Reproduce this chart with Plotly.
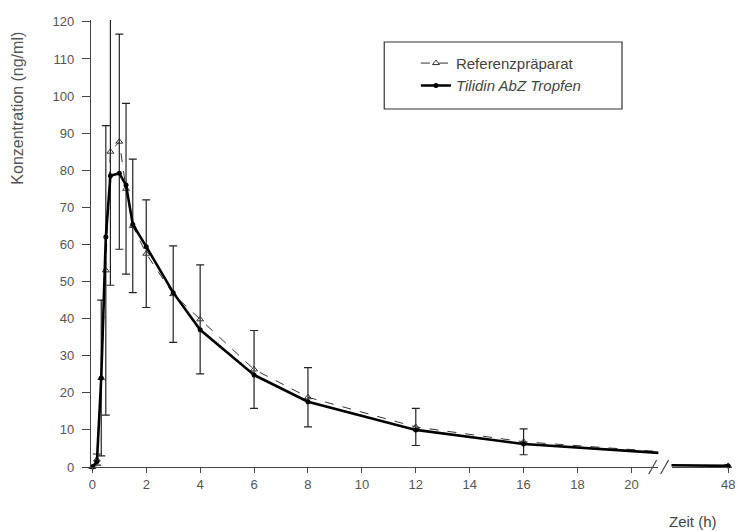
import plotly.graph_objects as go

# Time points (h)
zeit = [0, 0.17, 0.33, 0.5, 0.67, 1, 1.25, 1.5, 2, 3, 4, 6, 8, 12, 16, 24, 48]
# Mean concentrations (ng/ml)
referenz = [0, 2, 24, 53, 85, 87.7, 75, 65, 57.5, 46.6, 39.8, 26.3, 18.8, 10.8, 6.8, 2.6, 0.3]
referenz_sd = [0, 1.5, 21, 39, 36, 29, 23, 18, 14.5, 13, 14.7, 10.5, 8, 5, 3.5, 1.5, 0.3]
tilidin = [0, 1.5, 24, 62, 78.5, 79.2, 76, 65.4, 59.4, 47, 37, 24.8, 17.6, 10, 6.2, 2.4, 0.3]

x_ticks_left = [0, 2, 4, 6, 8, 10, 12, 14, 16, 18, 20]
x_ticks_right = [48]
y_ticks = [0, 10, 20, 30, 40, 50, 60, 70, 80, 90, 100, 110, 120]

ref_name = "Referenzpräparat"
test_name = "<i>Tilidin AbZ Tropfen</i>"

fig = go.Figure()

for xa, ya, show in [("x", "y", True), ("x2", "y2", False)]:
    fig.add_trace(go.Scatter(
        x=zeit, y=referenz, name=ref_name, xaxis=xa, yaxis=ya, showlegend=show,
        mode="lines+markers", cliponaxis=False,
        line=dict(color="#333", width=1, dash="dash"),
        marker=dict(symbol="triangle-up-open", size=6, color="#333", line=dict(width=1)),
        error_y=dict(type="data", array=referenz_sd, visible=True, color="#222",
                     thickness=1.2, width=4),
    ))
    fig.add_trace(go.Scatter(
        x=zeit, y=tilidin, name=test_name, xaxis=xa, yaxis=ya, showlegend=show,
        mode="lines+markers", cliponaxis=False,
        line=dict(color="#000", width=2.6),
        marker=dict(symbol="circle", size=5, color="#000"),
    ))

tick_font = dict(family="Liberation Sans, Arial, sans-serif", size=13, color="#555")

W = 741 - 91 - 6  # plotting width in px
H = 447

fig.update_layout(
    width=741, height=531,
    margin=dict(l=91, r=6, t=20, b=64),
    paper_bgcolor="white", plot_bgcolor="white",
    font=dict(family="Liberation Sans, Arial, sans-serif", size=13, color="#444"),
    xaxis=dict(domain=[0, (663.7 - 91) / W], range=[-0.05, 21], tickvals=x_ticks_left,
               showline=True, linecolor="#444", linewidth=1.2, ticks="outside",
               ticklen=5, tickcolor="#444", showgrid=False, zeroline=False,
               tickfont=tick_font),
    xaxis2=dict(domain=[(677 - 91) / W, 1], range=[45.9, 48.03], tickvals=x_ticks_right,
                showline=True, linecolor="#444", linewidth=1.2, ticks="outside",
                ticklen=5, tickcolor="#444", showgrid=False, zeroline=False,
                tickfont=tick_font, anchor="y2", ticklabeloverflow="allow"),
    yaxis=dict(range=[0, 120.5], tickvals=y_ticks, showline=True, linecolor="#444",
               linewidth=1.2, ticks="outside", ticklen=8, tickcolor="#444",
               showgrid=False, zeroline=False, tickfont=tick_font,
               ticklabelstandoff=5),
    yaxis2=dict(range=[0, 120.5], anchor="x2", matches="y", visible=False),
    legend=dict(x=(419 - 91) / W, y=0.94, xanchor="left", yanchor="top",
                bgcolor="rgba(0,0,0,0)", borderwidth=0, tracegroupgap=0,
                font=dict(size=15, color="#444")),
    showlegend=True,
)

# y-axis title (placed near top, as in the original)
fig.add_annotation(text="Konzentration (ng/ml)", xref="paper", yref="paper",
                   x=(17 - 91) / W, y=(467 - 108) / H, textangle=-90,
                   showarrow=False, xanchor="center", yanchor="middle",
                   font=dict(size=16, color="#555"))

# legend frame
fig.add_shape(type="rect", xref="paper", yref="paper",
              x0=(387 - 91) / W, x1=(627 - 91) / W,
              y0=(467 - 109) / H, y1=(467 - 42) / H,
              line=dict(color="#333", width=1.2), fillcolor="rgba(0,0,0,0)")

# axis break marks
for px in (658, 670):
    fig.add_shape(type="line", xref="paper", yref="paper",
                  x0=(px - 4 - 91) / W, x1=(px + 4 - 91) / W,
                  y0=-7 / H, y1=7 / H,
                  line=dict(color="#444", width=1.2))

fig.add_annotation(text="Zeit (h)", xref="paper", yref="paper",
                   x=(699 - 91) / W, y=-(521 - 467) / H,
                   showarrow=False, xanchor="center", yanchor="middle",
                   font=dict(size=15, color="#444"))

fig.write_html("out.html", config={"displayModeBar": False},
               post_script="document.body.style.margin='0';document.body.style.overflow='hidden';")
